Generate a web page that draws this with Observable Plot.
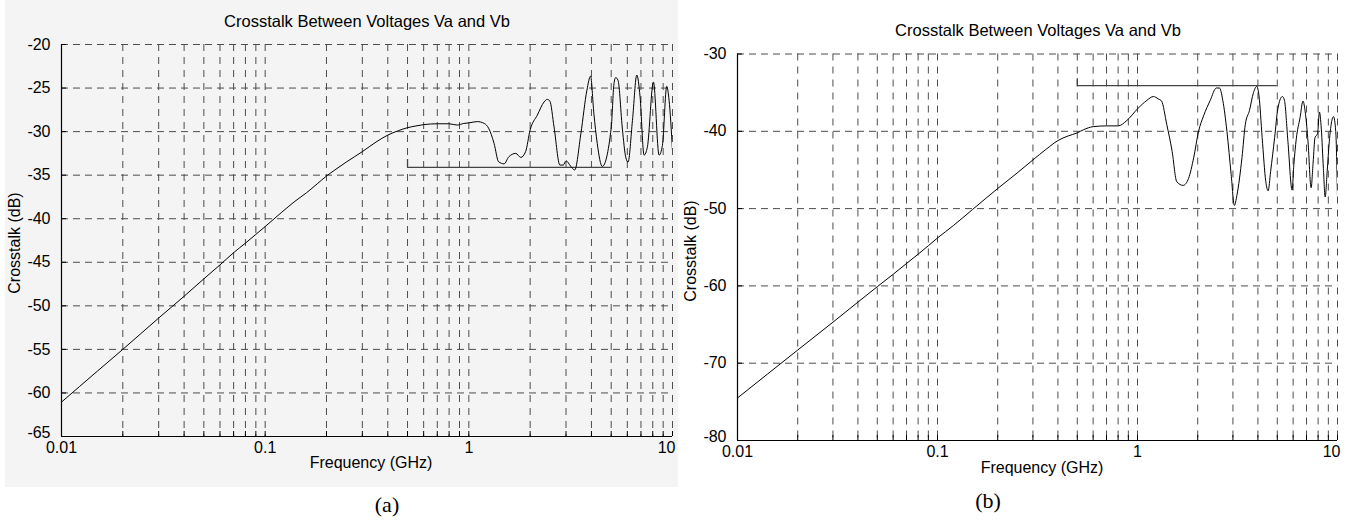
<!DOCTYPE html>
<html><head><meta charset="utf-8">
<script src="https://cdn.jsdelivr.net/npm/d3@7"></script>
<script src="https://cdn.jsdelivr.net/npm/@observablehq/plot@0.6"></script>
<style>
body{margin:0;width:1354px;height:523px;background:#fff;position:relative;overflow:hidden;font-family:"Liberation Sans",Arial,sans-serif;}
.bg{position:absolute;left:5px;top:0;width:673px;height:487px;background:#f4f4f4;}
.panel{position:absolute;top:0;}
.t{position:absolute;white-space:nowrap;color:#000;transform:translate(-50%,-50%);font-size:16px;line-height:1;}
.ttl{font-size:16.5px;}
.rot{transform:translate(-50%,-50%) rotate(-90deg);}
.cap{font-family:"Liberation Serif","Times New Roman",serif;font-size:22px;}
</style></head><body>
<div class="bg"></div>
<div id="pa" class="panel" style="left:0"></div>
<div id="pb" class="panel" style="left:680px"></div>
<div class="t ttl" style="left:367px;top:21px">Crosstalk Between Voltages Va and Vb</div>
<div class="t ttl" style="left:1038px;top:30px">Crosstalk Between Voltages Va and Vb</div>
<div class="t" style="left:371px;top:463px">Frequency (GHz)</div>
<div class="t" style="left:1042px;top:468px">Frequency (GHz)</div>
<div class="t rot" style="left:15px;top:243px">Crosstalk (dB)</div>
<div class="t rot" style="left:691px;top:251px">Crosstalk (dB)</div>
<div class="t cap" style="left:387px;top:505px">(a)</div>
<div class="t cap" style="left:988px;top:501px">(b)</div>
<script>
// ---- data ----
const gridFreqs = [0.02,0.03,0.04,0.05,0.06,0.07,0.08,0.09,0.1,0.2,0.3,0.4,0.5,0.6,0.7,0.8,0.9,1,2,3,4,5,6,7,8,9,10];
const tickFreqs = [0.02,0.03,0.04,0.05,0.06,0.07,0.08,0.09,0.1,0.2,0.3,0.4,0.5,0.6,0.7,0.8,0.9,1,2,3,4,5,6,7,8,9,10];
const xLabelTicks = [0.01, 0.1, 1];
const xLastTick = [10];
const yTicksA = [-65,-60,-55,-50,-45,-40,-35,-30,-25,-20];
const yTicksB = [-80,-70,-60,-50,-40,-30];

const freqA = [0.01,0.015,0.02,0.03,0.04,0.05,0.06,0.07,0.08,0.09,0.1,0.12,0.14,0.16,0.18,0.2,0.22,0.25,0.3,0.35,0.4,0.45,0.5,0.55,0.6,0.7,0.8,0.877,0.945,1.0,1.1,1.19,1.25,1.33,1.40,1.49,1.57,1.70,1.80,1.90,2.0,2.17,2.34,2.43,2.50,2.62,2.80,2.91,3.0,3.16,3.31,3.55,3.80,3.96,4.11,4.27,4.52,5.0,5.16,5.26,5.40,5.68,5.89,6.05,6.36,6.68,6.93,7.25,7.53,8.06,8.59,8.92,9.37,9.62,10.0];
const dbA = [-61.05,-57.5,-55.0,-51.4,-48.9,-46.9,-45.3,-43.9,-42.8,-41.8,-40.9,-39.3,-38.0,-37.0,-36.0,-35.1,-34.4,-33.5,-32.3,-31.2,-30.4,-29.9,-29.55,-29.35,-29.2,-29.1,-29.1,-29.25,-29.06,-29.0,-28.85,-29.06,-29.6,-31.35,-33.46,-33.7,-32.9,-32.5,-32.96,-32.3,-29.8,-28.1,-26.6,-26.3,-26.5,-29.45,-33.84,-33.84,-33.35,-33.96,-34.4,-30.2,-25.24,-23.63,-27.9,-31.35,-34.0,-29.6,-24.5,-23.8,-24.1,-29.8,-32.9,-33.5,-28.7,-23.5,-26.0,-32.7,-31.74,-24.3,-32.7,-31.6,-24.8,-26.4,-32.2];

const freqB = [0.01,0.02,0.03,0.04,0.05,0.06,0.07,0.08,0.09,0.1,0.12,0.15,0.2,0.25,0.3,0.35,0.4,0.45,0.5,0.537,0.6,0.7,0.8,0.885,1.0,1.114,1.20,1.27,1.32,1.40,1.49,1.57,1.69,1.80,1.91,2.02,2.14,2.31,2.48,2.57,2.67,2.80,2.94,3.05,3.14,3.33,3.46,3.63,3.80,3.95,4.05,4.2,4.38,4.50,4.63,4.85,5.03,5.3,5.43,5.65,5.93,6.05,6.22,6.5,6.72,6.92,7.12,7.38,7.55,7.72,7.95,8.12,8.3,8.5,8.68,8.88,9.1,9.55,9.8,10.0];
const dbB = [-74.5,-68.3,-64.7,-62.1,-60.1,-58.5,-57.1,-55.9,-54.8,-53.8,-52.2,-50.1,-47.4,-45.4,-43.7,-42.3,-41.2,-40.6,-40.2,-39.8,-39.4,-39.3,-39.3,-38.6,-37.1,-36.0,-35.5,-35.8,-36.1,-39.1,-42.6,-46.5,-47.0,-46.1,-43.4,-40.0,-38.0,-36.0,-34.4,-34.4,-36.0,-40.0,-45.6,-49.6,-48.3,-43.4,-39.1,-37.3,-35.0,-34.2,-35.4,-40.8,-46.5,-47.7,-45.2,-40.8,-37.1,-35.5,-36.0,-41.3,-47.6,-44.3,-41.0,-38.2,-36.1,-37.8,-41.3,-47.3,-44.1,-40.8,-40.3,-37.5,-39.7,-44.8,-48.5,-45.2,-41.3,-38.1,-40.0,-48.6];

// spec marker: horizontal line from 0.5 to 5 GHz with a small tick at its left end
const markerFreqs = [0.5, 5];
const markerLevelA = -34.1, markerTopA = -33.2;
const markerLevelB = -34.1, markerTopB = -33.2;

function panel(o) {
  const data = o.freq.map((f, i) => ({f, db: o.db[i]}));
  const fmt = d => String(d);
  return Plot.plot({
    width: o.width, height: o.height,
    marginLeft: o.ml, marginRight: o.mr, marginTop: o.mt, marginBottom: o.mb,
    x: {type: "log", domain: [0.01, 10]},
    y: {domain: o.yDomain},
    style: {fontFamily: '"Liberation Sans", Arial, sans-serif', fontSize: "16px", background: "transparent", color: "#000", overflow: "visible"},
    marks: [
      Plot.ruleX(gridFreqs, {stroke: "#4d4d4d", strokeWidth: 1, strokeDasharray: "7,6"}),
      Plot.ruleY(o.yTicks.slice(1), {stroke: "#4d4d4d", strokeWidth: 1, strokeDasharray: "7,5"}),
      Plot.axisX(tickFreqs, {tickSize: 5, dy: -5, tickFormat: () => "", label: null, stroke: "#000"}),
      Plot.axisY(o.yTicks, {tickSize: 5, dx: 5, tickFormat: () => "", label: null, stroke: "#000"}),
      Plot.axisX(xLabelTicks, {tickSize: 0, tickPadding: 5, tickFormat: fmt, label: null}),
      Plot.axisX(xLastTick, {tickSize: 0, tickPadding: 5, tickFormat: fmt, label: null, textAnchor: "end", dx: 3}),
      Plot.axisY(o.yTicks.slice(1), {tickSize: 0, tickPadding: 11, tickFormat: fmt, label: null}),
      Plot.axisY(o.yTicks.slice(0, 1), {tickSize: 0, tickPadding: 11, tickFormat: fmt, label: null, dy: -4}),
      Plot.ruleX([0.01], {stroke: "#000", strokeWidth: 1.2}),
      Plot.ruleY([o.yDomain[0]], {stroke: "#000", strokeWidth: 1.2}),
      Plot.ruleY([o.level], {x1: markerFreqs[0], x2: markerFreqs[1], stroke: "#444", strokeWidth: 1.3}),
      Plot.ruleX([markerFreqs[0]], {y1: o.level, y2: o.top, stroke: "#444", strokeWidth: 1.3}),
      Plot.line(data, {x: "f", y: "db", stroke: "#000", strokeWidth: 1, curve: "monotone-x", clip: true})
    ]
  });
}

document.getElementById("pa").appendChild(panel({
  freq: freqA, db: dbA, yDomain: [-65, -20], yTicks: yTicksA,
  level: markerLevelA, top: markerTopA,
  width: 680, height: 490, ml: 61, mr: 8, mt: 44, mb: 54
}));
document.getElementById("pb").appendChild(panel({
  freq: freqB, db: dbB, yDomain: [-80, -30], yTicks: yTicksB,
  level: markerLevelB, top: markerTopB,
  width: 674, height: 490, ml: 57, mr: 17, mt: 53.5, mb: 50
}));
</script>
</body></html>
